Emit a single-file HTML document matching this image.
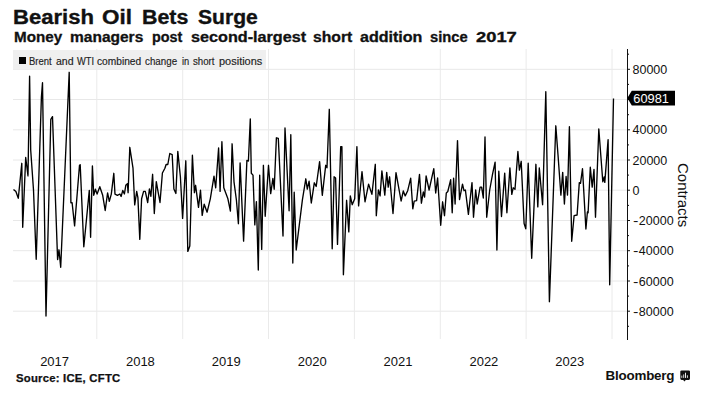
<!DOCTYPE html>
<html><head><meta charset="utf-8"><style>
html,body{margin:0;padding:0;background:#fff;}
body{width:720px;height:408px;position:relative;overflow:hidden;font-family:"Liberation Sans",sans-serif;color:#111;}
.t{position:absolute;white-space:nowrap;}
#leg{position:absolute;left:13px;top:49.6px;width:252.5px;height:20.8px;background:rgba(236,236,236,0.82);z-index:1;}
#legsq{position:absolute;left:19.2px;top:56.9px;width:6.8px;height:6.9px;background:#000;z-index:2;}
.yl{position:absolute;left:632.5px;font-size:12.5px;line-height:14px;white-space:nowrap;color:#111;}
.xl{position:absolute;top:355.1px;width:60px;text-align:center;font-size:13px;line-height:14px;color:#111;}
#src{left:16.2px;top:373px;font-size:10.3px;line-height:12px;font-weight:bold;letter-spacing:0.2px;transform:scaleX(1.1);transform-origin:0 0;color:#111;-webkit-text-stroke:0.25px #111;}
#bb{left:605.6px;top:367.6px;font-size:13.4px;line-height:15px;font-weight:bold;letter-spacing:-0.22px;color:#111;}
#contr{position:absolute;left:652.6px;top:184.9px;width:60px;text-align:center;font-size:15px;line-height:16px;transform:rotate(90deg);color:#111;}
#lab{position:absolute;left:633.3px;top:91.6px;font-size:12.8px;line-height:14.5px;color:#fff;}
</style></head><body>
<span style="position:absolute;white-space:nowrap;left:13.40px;top:6.0px;font-size:20px;line-height:22px;font-weight:bold;transform:scaleX(1.1033);transform-origin:0 0;color:#111;-webkit-text-stroke:0.35px #111;">Bearish</span>
<span style="position:absolute;white-space:nowrap;left:102.00px;top:6.0px;font-size:20px;line-height:22px;font-weight:bold;transform:scaleX(1.1220);transform-origin:0 0;color:#111;-webkit-text-stroke:0.35px #111;">Oil</span>
<span style="position:absolute;white-space:nowrap;left:141.53px;top:6.0px;font-size:20px;line-height:22px;font-weight:bold;transform:scaleX(1.0704);transform-origin:0 0;color:#111;-webkit-text-stroke:0.35px #111;">Bets</span>
<span style="position:absolute;white-space:nowrap;left:197.70px;top:6.0px;font-size:20px;line-height:22px;font-weight:bold;transform:scaleX(1.0538);transform-origin:0 0;color:#111;-webkit-text-stroke:0.35px #111;">Surge</span>
<span style="position:absolute;white-space:nowrap;left:13.75px;top:29.2px;font-size:14px;line-height:16px;font-weight:bold;transform:scaleX(1.0853);transform-origin:0 0;color:#111;-webkit-text-stroke:0.3px #111;">Money</span>
<span style="position:absolute;white-space:nowrap;left:69.90px;top:29.2px;font-size:14px;line-height:16px;font-weight:bold;transform:scaleX(1.1076);transform-origin:0 0;color:#111;-webkit-text-stroke:0.3px #111;">managers</span>
<span style="position:absolute;white-space:nowrap;left:152.00px;top:29.2px;font-size:14px;line-height:16px;font-weight:bold;transform:scaleX(1.0271);transform-origin:0 0;color:#111;-webkit-text-stroke:0.3px #111;">post</span>
<span style="position:absolute;white-space:nowrap;left:190.60px;top:29.2px;font-size:14px;line-height:16px;font-weight:bold;transform:scaleX(1.1559);transform-origin:0 0;color:#111;-webkit-text-stroke:0.3px #111;">second-largest</span>
<span style="position:absolute;white-space:nowrap;left:312.80px;top:29.2px;font-size:14px;line-height:16px;font-weight:bold;transform:scaleX(1.1234);transform-origin:0 0;color:#111;-webkit-text-stroke:0.3px #111;">short</span>
<span style="position:absolute;white-space:nowrap;left:360.10px;top:29.2px;font-size:14px;line-height:16px;font-weight:bold;transform:scaleX(1.1469);transform-origin:0 0;color:#111;-webkit-text-stroke:0.3px #111;">addition</span>
<span style="position:absolute;white-space:nowrap;left:429.70px;top:29.2px;font-size:14px;line-height:16px;font-weight:bold;transform:scaleX(1.0524);transform-origin:0 0;color:#111;-webkit-text-stroke:0.3px #111;">since</span>
<span style="position:absolute;white-space:nowrap;left:475.70px;top:29.2px;font-size:14px;line-height:16px;font-weight:bold;transform:scaleX(1.3107);transform-origin:0 0;color:#111;-webkit-text-stroke:0.3px #111;">2017</span>
<div id="leg"></div><div id="legsq"></div>
<span style="position:absolute;white-space:nowrap;left:28.90px;top:56.2px;font-size:10px;line-height:12px;font-weight:normal;transform:scaleX(0.9452);transform-origin:0 0;color:#222;z-index:2;-webkit-text-stroke:0.15px #222;">Brent</span>
<span style="position:absolute;white-space:nowrap;left:56.30px;top:56.2px;font-size:10px;line-height:12px;font-weight:normal;transform:scaleX(1.0544);transform-origin:0 0;color:#222;z-index:2;-webkit-text-stroke:0.15px #222;">and</span>
<span style="position:absolute;white-space:nowrap;left:77.00px;top:56.2px;font-size:10px;line-height:12px;font-weight:normal;transform:scaleX(0.9289);transform-origin:0 0;color:#222;z-index:2;-webkit-text-stroke:0.15px #222;">WTI</span>
<span style="position:absolute;white-space:nowrap;left:97.20px;top:56.2px;font-size:10px;line-height:12px;font-weight:normal;transform:scaleX(1.0187);transform-origin:0 0;color:#222;z-index:2;-webkit-text-stroke:0.15px #222;">combined</span>
<span style="position:absolute;white-space:nowrap;left:145.40px;top:56.2px;font-size:10px;line-height:12px;font-weight:normal;transform:scaleX(0.9776);transform-origin:0 0;color:#222;z-index:2;-webkit-text-stroke:0.15px #222;">change</span>
<span style="position:absolute;white-space:nowrap;left:182.40px;top:56.2px;font-size:10px;line-height:12px;font-weight:normal;transform:scaleX(0.9278);transform-origin:0 0;color:#222;z-index:2;-webkit-text-stroke:0.15px #222;">in</span>
<span style="position:absolute;white-space:nowrap;left:193.20px;top:56.2px;font-size:10px;line-height:12px;font-weight:normal;transform:scaleX(0.9665);transform-origin:0 0;color:#222;z-index:2;-webkit-text-stroke:0.15px #222;">short</span>
<span style="position:absolute;white-space:nowrap;left:219.40px;top:56.2px;font-size:10px;line-height:12px;font-weight:normal;transform:scaleX(1.0971);transform-origin:0 0;color:#222;z-index:2;-webkit-text-stroke:0.15px #222;">positions</span>
<svg width="720" height="408" style="position:absolute;left:0;top:0">
<line x1="13" y1="311.2" x2="627" y2="311.2" stroke="#e8e8e8" stroke-width="1"/>
<line x1="13" y1="281.0" x2="627" y2="281.0" stroke="#e8e8e8" stroke-width="1"/>
<line x1="13" y1="250.7" x2="627" y2="250.7" stroke="#e8e8e8" stroke-width="1"/>
<line x1="13" y1="220.5" x2="627" y2="220.5" stroke="#e8e8e8" stroke-width="1"/>
<line x1="13" y1="190.2" x2="627" y2="190.2" stroke="#e8e8e8" stroke-width="1"/>
<line x1="13" y1="160.0" x2="627" y2="160.0" stroke="#e8e8e8" stroke-width="1"/>
<line x1="13" y1="129.8" x2="627" y2="129.8" stroke="#e8e8e8" stroke-width="1"/>
<line x1="13" y1="99.5" x2="627" y2="99.5" stroke="#e8e8e8" stroke-width="1"/>
<line x1="13" y1="69.3" x2="627" y2="69.3" stroke="#e8e8e8" stroke-width="1"/>
<line x1="96.8" y1="49" x2="96.8" y2="339" stroke="#eaeaea" stroke-width="1"/>
<line x1="182.7" y1="49" x2="182.7" y2="339" stroke="#eaeaea" stroke-width="1"/>
<line x1="268.5" y1="49" x2="268.5" y2="339" stroke="#eaeaea" stroke-width="1"/>
<line x1="354.4" y1="49" x2="354.4" y2="339" stroke="#eaeaea" stroke-width="1"/>
<line x1="440.3" y1="49" x2="440.3" y2="339" stroke="#eaeaea" stroke-width="1"/>
<line x1="526.1" y1="49" x2="526.1" y2="339" stroke="#eaeaea" stroke-width="1"/>
<line x1="612.0" y1="49" x2="612.0" y2="339" stroke="#eaeaea" stroke-width="1"/>
<line x1="627.5" y1="49" x2="627.5" y2="340" stroke="#111" stroke-width="1"/>
<line x1="627" y1="326.3" x2="629" y2="326.3" stroke="#111" stroke-width="1"/>
<line x1="627" y1="311.2" x2="630" y2="311.2" stroke="#111" stroke-width="1"/>
<line x1="627" y1="296.1" x2="629" y2="296.1" stroke="#111" stroke-width="1"/>
<line x1="627" y1="281.0" x2="630" y2="281.0" stroke="#111" stroke-width="1"/>
<line x1="627" y1="265.9" x2="629" y2="265.9" stroke="#111" stroke-width="1"/>
<line x1="627" y1="250.7" x2="630" y2="250.7" stroke="#111" stroke-width="1"/>
<line x1="627" y1="235.6" x2="629" y2="235.6" stroke="#111" stroke-width="1"/>
<line x1="627" y1="220.5" x2="630" y2="220.5" stroke="#111" stroke-width="1"/>
<line x1="627" y1="205.4" x2="629" y2="205.4" stroke="#111" stroke-width="1"/>
<line x1="627" y1="190.2" x2="630" y2="190.2" stroke="#111" stroke-width="1"/>
<line x1="627" y1="175.1" x2="629" y2="175.1" stroke="#111" stroke-width="1"/>
<line x1="627" y1="160.0" x2="630" y2="160.0" stroke="#111" stroke-width="1"/>
<line x1="627" y1="144.9" x2="629" y2="144.9" stroke="#111" stroke-width="1"/>
<line x1="627" y1="129.8" x2="630" y2="129.8" stroke="#111" stroke-width="1"/>
<line x1="627" y1="114.7" x2="629" y2="114.7" stroke="#111" stroke-width="1"/>
<line x1="627" y1="99.5" x2="630" y2="99.5" stroke="#111" stroke-width="1"/>
<line x1="627" y1="84.4" x2="629" y2="84.4" stroke="#111" stroke-width="1"/>
<line x1="627" y1="69.3" x2="630" y2="69.3" stroke="#111" stroke-width="1"/>
<line x1="627" y1="54.2" x2="629" y2="54.2" stroke="#111" stroke-width="1"/>
<polyline points="13.5,189.6 15.9,191.6 18.3,198.3 21.8,163.3 22.7,227.3 25.7,157.5 28.0,175.9 29.6,76.2 30.7,150.0 33.5,190.0 36.2,259.3 41.4,97.4 42.5,82.7 46.0,316.1 50.8,119.3 52.5,116.6 57.6,259.6 59.0,249.8 60.7,267.3 69.2,72.3 70.9,202.7 72.1,202.7 74.6,225.9 79.5,165.2 80.2,164.7 83.8,246.8 89.3,190.4 90.6,237.3 92.4,165.9 93.7,195.3 95.4,189.2 97.1,194.1 99.8,186.7 102.7,195.3 105.2,210.5 107.6,192.9 109.3,201.4 111.3,194.1 113.8,173.3 115.0,194.1 117.4,195.3 119.9,194.0 121.1,196.5 122.8,190.4 124.4,194.0 125.8,185.3 127.4,183.6 128.1,192.7 129.8,147.3 133.0,168.2 134.7,204.9 136.7,191.4 137.9,197.6 139.8,239.4 141.6,198.8 143.6,191.4 145.3,191.4 147.7,202.5 149.4,189.0 150.9,196.3 152.6,174.3 154.3,213.5 156.3,181.6 158.0,191.4 160.0,202.5 162.4,173.0 164.9,168.2 166.1,164.5 167.8,164.5 169.8,153.5 172.2,154.7 173.9,189.0 175.9,193.5 177.8,151.4 180.4,176.7 182.6,218.4 185.8,160.8 187.8,251.4 189.8,246.0 192.4,155.2 194.4,192.7 195.6,185.3 198.5,207.4 200.5,190.2 202.2,215.4 204.2,204.2 207.1,212.2 210.3,198.8 214.0,176.2 215.7,187.8 218.6,148.0 220.1,191.4 221.9,141.7 223.8,187.8 227.9,198.8 230.4,211.0 232.1,143.8 234.0,181.8 236.4,200.0 238.4,223.7 240.1,162.9 243.6,241.1 246.9,160.4 248.4,161.0 250.3,118.9 251.3,173.3 253.0,175.1 254.8,224.9 256.4,201.6 258.3,270.0 259.7,175.1 261.7,249.4 263.4,165.3 265.2,216.3 268.5,165.3 270.7,193.6 272.9,178.4 274.2,189.2 276.4,137.8 278.3,138.3 283.0,236.0 285.0,128.0 289.1,210.8 290.8,134.7 292.8,263.0 294.2,192.2 296.2,250.0 302.4,199.8 305.8,178.8 307.3,189.2 309.1,181.2 311.3,203.0 314.3,182.8 316.2,186.5 319.6,161.6 322.3,195.3 325.7,165.3 327.0,167.8 329.3,109.3 332.2,248.8 334.1,176.8 335.6,178.0 337.5,244.4 340.7,146.6 341.9,146.6 343.4,274.7 346.6,200.3 348.8,231.9 350.3,196.0 352.2,204.7 354.7,198.8 356.9,146.6 358.6,205.9 362.0,171.6 365.0,201.8 368.6,184.1 371.9,194.4 375.3,164.3 376.3,215.7 378.4,190.0 380.1,195.9 381.9,170.9 384.8,195.1 386.7,172.4 388.2,187.1 389.6,176.8 393.0,213.5 396.0,172.6 401.1,201.0 403.3,191.0 405.2,195.9 407.7,190.7 410.7,178.2 412.8,208.8 414.2,201.2 416.6,200.6 419.5,174.4 421.4,203.2 423.3,192.0 424.6,197.0 426.1,176.0 429.1,190.0 431.7,178.2 433.8,168.7 435.7,193.0 437.6,178.0 440.7,225.3 442.6,201.8 444.5,215.7 446.3,193.0 447.8,191.5 450.7,179.7 452.2,212.8 453.6,178.2 455.1,204.0 457.5,140.6 459.5,199.6 462.5,184.1 464.0,190.7 465.4,190.0 468.4,214.3 472.0,182.6 473.5,217.2 475.7,190.0 477.2,204.0 480.1,187.1 481.6,187.1 483.3,198.0 485.0,136.9 486.7,217.2 489.7,190.0 492.6,173.8 495.1,162.1 496.9,250.0 498.8,171.2 501.5,216.5 504.7,173.1 506.9,212.8 509.9,167.9 511.8,194.4 513.2,187.8 515.0,189.3 517.9,151.5 519.4,170.1 521.2,161.3 524.1,223.5 525.8,228.8 528.2,163.2 531.7,258.3 535.9,164.3 537.8,206.9 539.3,167.9 542.6,204.7 545.8,91.7 549.4,301.7 555.8,125.8 558.0,154.7 560.9,195.1 562.7,172.4 564.4,204.0 566.1,176.5 567.5,195.1 569.4,126.7 571.7,241.3 574.1,215.7 577.1,215.0 579.3,182.6 580.5,183.4 582.5,168.7 585.9,229.0 587.4,212.0 588.1,212.8 590.3,167.2 592.2,187.1 594.0,169.4 595.5,217.2 598.8,129.0 602.8,181.8 604.2,176.9 604.8,182.4 608.1,139.6 609.7,284.8 613.5,98.5" fill="none" stroke="#000" stroke-width="1.35" stroke-linejoin="round"/>
<path d="M627.3,98.1 L631.8,90.8 L675,90.8 L675,105.4 L631.8,105.4 Z" fill="#000"/>
</svg>
<div class="yl" style="top:304.7px"><span style="display:inline-block;transform:scaleX(1.3);transform-origin:0 0;margin-right:2.2px">-</span>80000</div>
<div class="yl" style="top:274.5px"><span style="display:inline-block;transform:scaleX(1.3);transform-origin:0 0;margin-right:2.2px">-</span>60000</div>
<div class="yl" style="top:244.2px"><span style="display:inline-block;transform:scaleX(1.3);transform-origin:0 0;margin-right:2.2px">-</span>40000</div>
<div class="yl" style="top:214.0px"><span style="display:inline-block;transform:scaleX(1.3);transform-origin:0 0;margin-right:2.2px">-</span>20000</div>
<div class="yl" style="top:183.8px">0</div>
<div class="yl" style="top:153.5px">20000</div>
<div class="yl" style="top:123.3px">40000</div>
<div class="yl" style="top:93.0px">60000</div>
<div class="yl" style="top:62.8px">80000</div>
<div id="lab">60981</div>
<div class="xl" style="left:24.6px">2017</div>
<div class="xl" style="left:110.4px">2018</div>
<div class="xl" style="left:196.3px">2019</div>
<div class="xl" style="left:282.2px">2020</div>
<div class="xl" style="left:368.0px">2021</div>
<div class="xl" style="left:453.9px">2022</div>
<div class="xl" style="left:539.8px">2023</div>
<div id="contr">Contracts</div>
<div class="t" id="src">Source: ICE, CFTC</div>
<div class="t" id="bb">Bloomberg</div>
<svg width="11" height="12" style="position:absolute;left:680px;top:370px" viewBox="0 0 11 12"><path d="M0.3,1.6 Q0.3,0.4 1.6,0.4 L8.8,0.4 Q10,0.4 10,1.6 L10,8.6 Q10,9.9 8.8,9.9 L5.8,9.9 L4.4,11.4 L3.2,9.9 L1.6,9.9 Q0.3,9.9 0.3,8.6 Z" fill="#111"/><rect x="1.3" y="5.6" width="1" height="2.3" fill="#ccc"/><rect x="3.2" y="4.4" width="1" height="3.5" fill="#ddd"/><rect x="5" y="2.7" width="1" height="5.2" fill="#eee"/><rect x="6.9" y="5.3" width="1" height="2.6" fill="#ddd"/></svg>
</body></html>
